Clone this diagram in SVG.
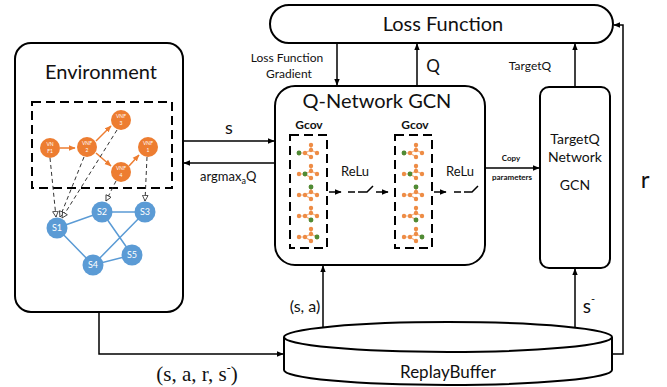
<svg xmlns="http://www.w3.org/2000/svg" width="667" height="387" viewBox="0 0 667 387">
<defs>
<style>
.box{fill:#fff;stroke:#000;stroke-width:2}
.ln{fill:none;stroke:#000;stroke-width:1.5}
.dash{fill:none;stroke:#000;stroke-width:2;stroke-dasharray:9 5}
.t{font-family:Lato,"Noto Sans",sans-serif;fill:#111}
.on{fill:#ED7D31}
.bn{fill:#5B9BD5}
.ol{fill:none;stroke:#ED7D31;stroke-width:1.5}
.bl{fill:none;stroke:#5B9BD5;stroke-width:1.5}
.dl{fill:none;stroke:#333;stroke-width:1;stroke-dasharray:4 3}
.nl{font-family:Lato,"Noto Sans",sans-serif;font-size:5px;fill:#fff;text-anchor:middle}
.sl{font-family:Lato,"Noto Sans",sans-serif;font-size:9px;fill:#fff;text-anchor:middle}
.gd{fill:#EE8C45}
.gg{fill:#4E8B35}
.ge{fill:none;stroke:#F4B183;stroke-width:1.2}
</style>
<marker id="ah" viewBox="0 0 10 10" refX="9" refY="5" markerWidth="7" markerHeight="7" orient="auto" markerUnits="userSpaceOnUse"><path d="M0,1 L10,5 L0,9 z" fill="#000"/></marker>
<marker id="oh" viewBox="0 0 10 10" refX="9" refY="5" markerWidth="7" markerHeight="7" orient="auto" markerUnits="userSpaceOnUse"><path d="M0,1 L10,5 L0,9 z" fill="#ED7D31"/></marker>
<marker id="open" viewBox="0 0 10 10" refX="9" refY="5" markerWidth="7" markerHeight="7" orient="auto" markerUnits="userSpaceOnUse"><path d="M1,1 L9,5 L1,9 z" fill="#fff" stroke="#333" stroke-width="1.2"/></marker>
<g id="grow">
<path class="ge" d="M-12,0 L-6,0 L0,-3 L0,-8 M0,-3 L6,0 M-6,0 L0,4"/>
<circle class="gd" cx="-12" cy="0" r="2.2"/>
<circle class="gd" cx="-6" cy="0" r="2.2"/>
<circle class="gd" cx="0" cy="-3" r="2.2"/>
<circle class="gd" cx="0" cy="-8" r="2.2"/>
<circle class="gd" cx="6" cy="0" r="2.2"/>
<circle class="gd" cx="0" cy="4" r="2.2"/>
</g>
<g id="gstack">
<use href="#grow" x="0" y="153"/>
<circle class="gg" cx="-12" cy="153" r="2.4"/>
<use href="#grow" x="0" y="174"/>
<circle class="gg" cx="-6" cy="174" r="2.4"/>
<use href="#grow" x="0" y="195"/>
<circle class="gg" cx="0" cy="187" r="2.4"/>
<use href="#grow" x="0" y="216"/>
<circle class="gg" cx="0" cy="220" r="2.4"/>
<use href="#grow" x="0" y="237"/>
<circle class="gg" cx="6" cy="237" r="2.4"/>
</g>
</defs>
<rect width="667" height="387" fill="#fff"/>

<g id="connectors">
<path class="ln" d="M337,43 L337,85" marker-end="url(#ah)"/>
<path class="ln" d="M417,86 L417,44" marker-end="url(#ah)"/>
<path class="ln" d="M575,87 L575,44" marker-end="url(#ah)"/>
<path class="ln" d="M612,354 L623,354 L623,25 L614,25" marker-end="url(#ah)"/>
<path class="ln" d="M172,141 L274,141" marker-end="url(#ah)"/>
<path class="ln" d="M275,163 L184,163" marker-end="url(#ah)"/>
<path class="ln" d="M485,168 L539,168" marker-end="url(#ah)"/>
<path class="ln" d="M323,327 L323,266" marker-end="url(#ah)"/>
<path class="ln" d="M575,327 L575,269" marker-end="url(#ah)"/>
<path class="ln" d="M99,312 L99,354 L283,354" marker-end="url(#ah)"/>
</g>

<g id="loss">
<rect class="box" x="270" y="5" width="343" height="38" rx="19"/>
<text class="t" x="443" y="31" font-size="20" text-anchor="middle">Loss Function</text>
</g>
<text class="t" x="287" y="62" font-size="12" text-anchor="middle">Loss Function</text>
<text class="t" x="289" y="78" font-size="12" text-anchor="middle">Gradient</text>
<text class="t" x="433" y="72" font-size="17" text-anchor="middle">Q</text>
<text class="t" x="530" y="70" font-size="12" text-anchor="middle">TargetQ</text>

<g id="environment">
<rect class="box" x="15" y="43" width="168" height="269" rx="16"/>
<text class="t" x="101" y="79" font-size="20" text-anchor="middle">Environment</text>
<rect class="dash" x="32" y="102" width="140" height="86"/>
<path class="ol" d="M60,148 L75,148" marker-end="url(#oh)"/>
<path class="ol" d="M96,141 L111,126" marker-end="url(#oh)"/>
<path class="ol" d="M96,153 L111,166" marker-end="url(#oh)"/>
<path class="ol" d="M129,166 L139,155" marker-end="url(#oh)"/>
<path class="dl" d="M50,158 L56,217" marker-end="url(#open)"/>
<path class="dl" d="M84,157 L60,217" marker-end="url(#open)"/>
<path class="dl" d="M117,130 L62,218" marker-end="url(#open)"/>
<path class="dl" d="M116,181 L106,201" marker-end="url(#open)"/>
<path class="dl" d="M147,157 L145,201" marker-end="url(#open)"/>
<g id="vnf-f1"><circle class="on" cx="50" cy="148" r="10"/><text class="nl" x="50" y="146">VN</text><text class="nl" x="50" y="153">F1</text></g>
<g id="vnf-2"><circle class="on" cx="87" cy="147" r="10"/><text class="nl" x="87" y="145">VNF</text><text class="nl" x="87" y="152">2</text></g>
<g id="vnf-3"><circle class="on" cx="121" cy="120" r="10"/><text class="nl" x="121" y="118">VNF</text><text class="nl" x="121" y="125">3</text></g>
<g id="vnf-4"><circle class="on" cx="121" cy="172" r="10"/><text class="nl" x="121" y="170">VNF</text><text class="nl" x="121" y="177">4</text></g>
<g id="vnf-1"><circle class="on" cx="148" cy="147" r="10"/><text class="nl" x="148" y="145">VNF</text><text class="nl" x="148" y="152">1</text></g>
<path class="bl" d="M57,228 L102,212 L145,212 M57,228 L93,265 L132,255 M93,265 L145,212 M102,212 L132,255"/>
<g id="s1"><circle class="bn" cx="57" cy="228" r="10.5"/><text class="sl" x="57" y="231">S1</text></g>
<g id="s2"><circle class="bn" cx="102" cy="212" r="10.5"/><text class="sl" x="102" y="215">S2</text></g>
<g id="s3"><circle class="bn" cx="145" cy="212" r="10.5"/><text class="sl" x="145" y="215">S3</text></g>
<g id="s4"><circle class="bn" cx="93" cy="265" r="10.5"/><text class="sl" x="93" y="268">S4</text></g>
<g id="s5"><circle class="bn" cx="132" cy="255" r="10.5"/><text class="sl" x="132" y="258">S5</text></g>
</g>
<text class="t" x="229" y="134" font-size="18" text-anchor="middle">s</text>
<text class="t" x="200" y="181" font-size="13">argmax<tspan font-size="9" dy="3">a</tspan><tspan dy="-3">Q</tspan></text>

<g id="qnetwork">
<rect class="box" x="275" y="86" width="210" height="179" rx="20"/>
<text class="t" x="377" y="108" font-size="20" text-anchor="middle">Q-Network GCN</text>
<text class="t" x="309" y="129" font-size="12" font-weight="bold" text-anchor="middle">Gcov</text>
<text class="t" x="415" y="129" font-size="12" font-weight="bold" text-anchor="middle">Gcov</text>
<rect class="dash" x="290" y="135" width="37" height="113"/>
<rect class="dash" x="395" y="135" width="37" height="113"/>
<use href="#gstack" x="311" y="0"/>
<use href="#gstack" x="416" y="0"/>
<text class="t" x="355" y="176" font-size="13" text-anchor="middle">ReLu</text>
<text class="t" x="460" y="176" font-size="13" text-anchor="middle">ReLu</text>
<path class="ln" d="M329,192 L341,192" marker-end="url(#ah)"/>
<path class="ln" d="M348,192 L355,192 M358,192 L367,192 L373,186"/>
<path class="ln" d="M376,192 L388,192" marker-end="url(#ah)"/>
<path class="ln" d="M434,192 L446,192" marker-end="url(#ah)"/>
<path class="ln" d="M454,192 L461,192 M464,192 L472,192 L478,186"/>
</g>
<text class="t" x="511" y="161" font-size="8" font-weight="bold" text-anchor="middle">Copy</text>
<text class="t" x="512" y="180" font-size="8" font-weight="bold" text-anchor="middle">parameters</text>

<g id="targetq">
<rect class="box" x="540" y="87" width="70" height="181" rx="9"/>
<text class="t" x="575" y="144" font-size="14" text-anchor="middle">TargetQ</text>
<text class="t" x="575" y="162" font-size="14" text-anchor="middle">Network</text>
<text class="t" x="575" y="190" font-size="14" text-anchor="middle">GCN</text>
</g>
<text class="t" x="645" y="188" font-size="24" text-anchor="middle">r</text>

<g id="replaybuffer">
<path class="box" d="M284,337 L284,370 A164,15 0 0 0 612,370 L612,337"/>
<ellipse class="box" cx="448" cy="337" rx="164" ry="15"/>
<text class="t" x="448" y="378" font-size="17" text-anchor="middle">ReplayBuffer</text>
</g>
<text class="t" x="305" y="312" font-size="16" text-anchor="middle">(s, a)</text>
<text class="t" x="589" y="313" font-size="19" text-anchor="middle">s<tspan font-size="11" dy="-10">-</tspan></text>
<text x="197" y="381" font-size="21" font-family="'Liberation Serif',serif" fill="#111" text-anchor="middle">(s, a, r, s<tspan font-size="12" dy="-9">-</tspan><tspan dy="9">)</tspan></text>
</svg>
